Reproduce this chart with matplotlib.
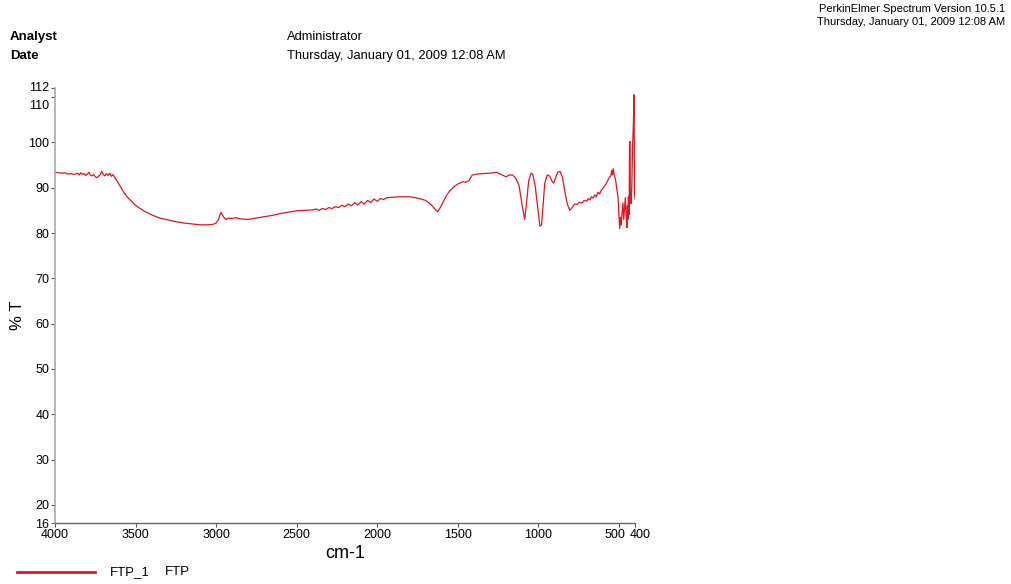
import matplotlib
matplotlib.use("Agg")
import matplotlib.pyplot as plt
from matplotlib.transforms import ScaledTranslation

plt.rcParams["font.family"] = ["Liberation Sans", "DejaVu Sans"]

# spectrum: wavenumber (cm-1) and %T
wavenumber = [
    4000, 3980, 3960, 3940, 3920, 3900, 3880, 3860, 3850, 3840, 3830, 3820,
    3810, 3800, 3790, 3780, 3770, 3760, 3750, 3740, 3730, 3720, 3710, 3700,
    3690, 3680, 3670, 3660, 3650, 3640, 3630, 3610, 3590, 3570, 3550, 3520,
    3500, 3450, 3400, 3350, 3300, 3250, 3200, 3150, 3100, 3050, 3020, 3000,
    2985, 2970, 2955, 2940, 2920, 2900, 2880, 2850, 2800, 2750, 2700, 2650,
    2600, 2550, 2500, 2450, 2400, 2380, 2360, 2340, 2320, 2300, 2280, 2260,
    2240, 2220, 2200, 2180, 2160, 2140, 2120, 2100, 2080, 2060, 2040, 2020,
    2000, 1980, 1960, 1940, 1900, 1850, 1800, 1750, 1700, 1670, 1640, 1625,
    1610, 1590, 1570, 1550, 1520, 1500, 1470, 1450, 1430, 1410, 1380, 1350,
    1300, 1260, 1230, 1200, 1180, 1160, 1140, 1120, 1100, 1085, 1075, 1060,
    1045, 1035, 1020, 1005, 990, 980, 970, 960, 945, 930, 915, 905,
    895, 880, 865, 850, 835, 820, 805, 790, 775, 760, 745, 730,
    715, 700, 690, 680, 670, 660, 650, 640, 630, 620, 610, 600,
    590, 580, 570, 560, 550, 545, 540, 535, 530, 525, 520, 515,
    510, 505, 500, 495, 490, 485, 480, 475, 470, 465, 460, 455,
    450, 447, 444, 441, 438, 436, 434, 431, 429, 427, 425, 420,
    415, 410, 406, 404, 402, 400,
]
transmittance = [
    93.4, 93.3, 93.2, 93.3, 93.0, 93.1, 92.9, 93.2, 92.8, 93.3, 92.9, 93.1,
    92.7, 93.0, 93.4, 92.8, 92.6, 92.9, 92.4, 92.2, 92.5, 92.8, 93.6, 92.9,
    92.6, 93.1, 92.7, 93.2, 92.5, 92.9, 92.3, 91.2, 90.0, 88.8, 87.9, 86.8,
    86.1, 84.9, 84.0, 83.3, 82.9, 82.5, 82.2, 82.0, 81.8, 81.8, 81.9, 82.2,
    83.0, 84.6, 83.6, 83.0, 83.3, 83.2, 83.4, 83.1, 83.0, 83.3, 83.6, 83.9,
    84.3, 84.6, 84.9, 85.0, 85.1, 85.3, 85.0, 85.4, 85.2, 85.6, 85.4, 85.8,
    85.6, 86.1, 85.8, 86.4, 86.0, 86.7, 86.2, 86.9, 86.4, 87.2, 86.7, 87.5,
    87.0, 87.6, 87.4, 87.8, 87.9, 88.0, 88.0, 87.7, 87.2, 86.4, 85.2, 84.7,
    85.5, 86.9, 88.3, 89.3, 90.3, 90.8, 91.3, 91.2, 91.6, 92.8, 93.0, 93.1,
    93.2, 93.4, 92.9, 92.4, 92.8, 92.8, 92.1, 90.5, 86.0, 83.0, 86.0, 91.5,
    93.2, 93.0, 90.5, 86.0, 81.5, 81.8, 86.5, 91.0, 92.8, 92.6, 91.4, 91.0,
    92.0, 93.4, 93.6, 92.3, 89.0, 86.4, 85.0, 85.6, 86.4, 86.3, 86.8, 86.6,
    87.2, 87.0, 87.6, 87.3, 88.0, 87.7, 88.4, 88.0, 89.0, 88.6, 89.4, 89.8,
    90.3, 90.8, 91.5, 92.2, 92.6, 93.8, 92.8, 94.2, 93.0, 92.4, 91.6, 90.2,
    89.0, 87.8, 84.0, 81.0, 83.5, 81.8, 84.6, 86.6, 83.0, 85.5, 87.8, 84.0,
    81.2, 86.0, 83.0, 88.0, 84.0, 86.0, 99.8, 100.2, 88.0, 87.5, 86.5, 90.0,
    99.0, 104.0, 110.5, 95.0, 88.5, 87.5,
]

x_ticks = [4000, 3500, 3000, 2500, 2000, 1500, 1000, 500, 400]
y_ticks = [16, 20, 30, 40, 50, 60, 70, 80, 90, 100, 110, 112]

fig = plt.figure(figsize=(10.11, 5.84), dpi=100)
ax = fig.add_axes([55 / 1011, 1 - 523 / 584, 580 / 1011, 435 / 584])

ax.plot(wavenumber, transmittance, color="#e0161e", lw=0.9)

ax.set_xlim(4000, 400)
ax.set_ylim(16, 112)
ax.set_xticks(x_ticks)
ax.set_yticks(y_ticks)
ax.tick_params(axis="both", labelsize=9, length=3, width=0.8, color="#555555", pad=1)

# crowded labels: nudge them apart like the original print
fig.canvas.draw()
xl = ax.get_xticklabels()
xl[7].set_transform(xl[7].get_transform() + ScaledTranslation(-3 / 72, 0, fig.dpi_scale_trans))
xl[8].set_transform(xl[8].get_transform() + ScaledTranslation(4 / 72, 0, fig.dpi_scale_trans))
yl = ax.get_yticklabels()
yl[10].set_transform(yl[10].get_transform() + ScaledTranslation(0, -5 / 72, fig.dpi_scale_trans))
yl[11].set_transform(yl[11].get_transform() + ScaledTranslation(0, 1 / 72, fig.dpi_scale_trans))

for s in ["top", "right"]:
    ax.spines[s].set_visible(False)
ax.spines["left"].set_color("#aaaaaa")
ax.spines["bottom"].set_color("#666666")
ax.spines["left"].set_linewidth(1.2)
ax.spines["bottom"].set_linewidth(1.0)

fig.text(17 / 1011, 1 - 315 / 584, "% T", fontsize=12, rotation=90, ha="center", va="center")
fig.text(345 / 1011, 1 - 553 / 584, "cm-1", fontsize=13, ha="center", va="center")

# header
fig.text(10 / 1011, 1 - 37 / 584, "Analyst", fontsize=9.5, fontweight="bold", va="center")
fig.text(10 / 1011, 1 - 56 / 584, "Date", fontsize=9.5, fontweight="bold", va="center")
fig.text(287 / 1011, 1 - 37 / 584, "Administrator", fontsize=9.3, va="center")
fig.text(287 / 1011, 1 - 56 / 584, "Thursday, January 01, 2009 12:08 AM", fontsize=9.3, va="center")
fig.text(1005 / 1011, 1 - 9 / 584, "PerkinElmer Spectrum Version 10.5.1", fontsize=8, ha="right", va="center")
fig.text(1005 / 1011, 1 - 22 / 584, "Thursday, January 01, 2009 12:08 AM", fontsize=8, ha="right", va="center")

# legend line
fig.add_artist(plt.Line2D([17 / 1011, 95 / 1011], [1 - 572 / 584, 1 - 572 / 584],
                          color="#e0161e", lw=2))
fig.text(110 / 1011, 1 - 572 / 584, "FTP_1", fontsize=9.5, va="center")
fig.text(165 / 1011, 1 - 572 / 584, "FTP", fontsize=9.5, va="center")

fig.savefig("out.png", dpi=100)
